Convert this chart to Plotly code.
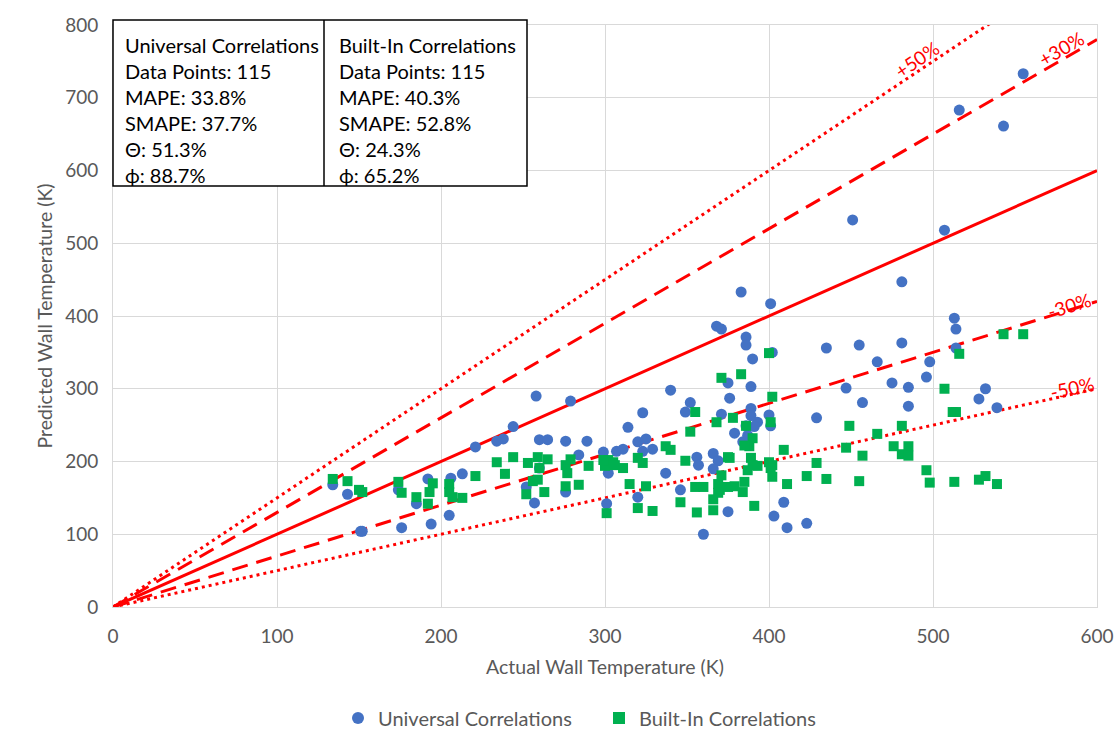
import plotly.graph_objects as go

# ---------------- data ----------------
universal_x = [555, 516, 543, 507, 481, 513, 514, 514, 481, 498, 475, 485, 496, 485, 532, 528, 539, 466,
               451, 455, 447, 457, 383, 401, 368, 371, 386, 386, 402, 390, 435, 375, 389, 376, 352, 371,
               389, 389, 393, 391, 386, 400, 401, 429, 379, 384, 387, 356, 357, 366, 369, 366, 375, 409,
               403, 411, 423, 360, 258, 279, 340, 244, 238, 260, 265, 276, 289, 314, 323, 320, 325, 323,
               329, 349, 284, 299, 307, 311, 302, 337, 260, 252, 276, 257, 301, 320, 346, 221, 234, 134,
               143, 151, 152, 176, 174, 185, 192, 194, 206, 205, 213]
universal_y = [733, 683, 661, 518, 447, 397, 382, 356, 363, 337, 308, 302, 316, 276, 300, 286, 274, 337,
               532, 360, 301, 281, 433, 417, 386, 382, 371, 360, 350, 341, 356, 308, 303, 287, 281, 265,
               273, 263, 254, 248, 249, 264, 249, 260, 239, 227, 236, 206, 195, 211, 201, 190, 131, 144,
               125, 109, 115, 100, 290, 283, 298, 248, 231, 230, 230, 228, 228, 247, 267, 227, 231, 214,
               217, 268, 209, 213, 214, 217, 184, 184, 191, 165, 158, 143, 142, 151, 161, 220, 228, 168,
               155, 104, 104, 109, 161, 142, 176, 114, 177, 126, 183]

builtin_x = [134, 143, 150, 152, 174, 176, 185, 192, 195, 193, 205, 205, 207, 213, 221, 234, 239, 244,
             253, 259, 265, 260, 259, 256, 252, 263, 276, 279, 277, 276, 284, 290, 300, 302, 305, 306,
             311, 299, 320, 323, 315, 325, 301, 320, 329, 337, 340, 349, 352, 355, 346, 355, 356, 400,
             371, 383, 402, 378, 368, 386, 401, 390, 388, 385, 409, 375, 376, 389, 390, 393, 387, 400,
             402, 401, 429, 371, 402, 360, 369, 370, 375, 379, 384, 385, 411, 423, 435, 366, 369, 366,
             391, 447, 449, 543, 555, 516, 507, 512, 514, 481, 466, 457, 476, 485, 481, 485, 496, 455,
             498, 513, 528, 532, 539]
builtin_y = [176, 173, 161, 158, 172, 157, 151, 142, 170, 158, 169, 158, 151, 150, 180, 199, 183, 206,
             198, 206, 203, 191, 175, 173, 155, 158, 195, 203, 184, 166, 168, 194, 194, 202, 199, 195,
             191, 202, 205, 198, 169, 166, 129, 136, 132, 221, 216, 201, 241, 268, 144, 165, 130, 349,
             315, 320, 289, 260, 254, 249, 254, 232, 221, 222, 216, 206, 205, 205, 195, 194, 188, 199,
             195, 191, 198, 181, 179, 165, 169, 161, 165, 166, 158, 172, 169, 180, 176, 148, 157, 133,
             139, 219, 249, 375, 375, 348, 300, 268, 268, 249, 238, 208, 221, 221, 210, 208, 188, 173,
             171, 172, 175, 180, 169]

ref_x = [0, 600]
ref_factors = [1.0, 1.3, 0.7, 1.5, 0.5]
ref_dash = ["solid", "16px,9px", "16px,9px", "3px,4px", "3px,4px"]

band_labels = ["+50%", "+30%", "-30%", "-50%"]
band_label_x = [490, 578, 583, 585]
band_label_y = [752, 768, 415, 302]
band_label_angle = [-34, -30, -17, -12]

table_left = ["Universal Correlations", "Data Points: 115", "MAPE: 33.8%", "SMAPE: 37.7%", "\u0398: 51.3%", "\u03d5: 88.7%"]
table_right = ["Built-In Correlations", "Data Points: 115", "MAPE: 40.3%", "SMAPE: 52.8%", "\u0398: 24.3%", "\u03d5: 65.2%"]

x_ticks = [0, 100, 200, 300, 400, 500, 600]
y_ticks = [0, 100, 200, 300, 400, 500, 600, 700, 800]

FONT = "Lato, 'Open Sans', sans-serif"
W, H = 1116, 745
L, R, T, B = 113, 19, 25, 138
PW, PH = W - L - R, H - T - B

fig = go.Figure()

for f, d in zip(ref_factors, ref_dash):
    fig.add_trace(go.Scatter(x=ref_x, y=[v * f for v in ref_x], mode="lines",
                             line=dict(color="#FF0000", width=3, dash=d),
                             showlegend=False, hoverinfo="skip", cliponaxis=True))

fig.add_trace(go.Scatter(x=universal_x, y=universal_y, mode="markers", name="Universal Correlations",
                         marker=dict(symbol="circle", size=11, color="#4472C4")))
fig.add_trace(go.Scatter(x=builtin_x, y=builtin_y, mode="markers", name="Built-In Correlations",
                         marker=dict(symbol="square", size=10, color="#00B050")))

for t, x, y, a in zip(band_labels, band_label_x, band_label_y, band_label_angle):
    fig.add_annotation(x=x, y=y, xref="x", yref="y", text=t, showarrow=False, textangle=a,
                       font=dict(family=FONT, size=19, color="#FF0000"))


def px_to_paper_x(px):
    return (px - L) / PW


def px_to_paper_y(py):
    return (H - B - py) / PH


box_l, box_r, box_t, box_b, box_mid = 113, 527, 20, 186, 324
fig.add_shape(type="rect", xref="paper", yref="paper",
              x0=px_to_paper_x(box_l), x1=px_to_paper_x(box_r),
              y0=px_to_paper_y(box_b), y1=px_to_paper_y(box_t),
              line=dict(color="black", width=1.5), fillcolor="white", layer="above")
fig.add_shape(type="line", xref="paper", yref="paper",
              x0=px_to_paper_x(box_mid), x1=px_to_paper_x(box_mid),
              y0=px_to_paper_y(box_b), y1=px_to_paper_y(box_t),
              line=dict(color="black", width=1.5), layer="above")
row_y = [45, 71, 97, 123, 149, 175]
for i, ry in enumerate(row_y):
    fig.add_annotation(x=px_to_paper_x(123), y=px_to_paper_y(ry), xref="paper", yref="paper",
                       text=table_left[i], showarrow=False, xanchor="left", yanchor="middle",
                       font=dict(family=FONT, size=20, color="black"))
    fig.add_annotation(x=px_to_paper_x(337), y=px_to_paper_y(ry), xref="paper", yref="paper",
                       text=table_right[i], showarrow=False, xanchor="left", yanchor="middle",
                       font=dict(family=FONT, size=20, color="black"))

fig.update_layout(
    width=W, height=H,
    margin=dict(l=L, r=R, t=T, b=B, pad=0, autoexpand=False),
    paper_bgcolor="white", plot_bgcolor="white",
    font=dict(family=FONT, size=19, color="#595959"),
    legend=dict(orientation="h", x=px_to_paper_x(338), xanchor="left", y=px_to_paper_y(718), yanchor="middle",
                entrywidth=216, entrywidthmode="pixels",
                font=dict(family=FONT, size=20, color="#595959"), itemsizing="constant"),
    xaxis=dict(range=[0, 600], tickvals=x_ticks, showgrid=True, gridcolor="#D9D9D9", gridwidth=1,
               showline=True, linecolor="#D9D9D9", mirror=True, zeroline=False, ticks="",
               ticklabelstandoff=12, automargin=False,
               title=dict(text="Actual Wall Temperature (K)", font=dict(family=FONT, size=19.5, color="#595959"),
                          standoff=14),
               tickfont=dict(family=FONT, size=19, color="#595959")),
    yaxis=dict(range=[0, 800], tickvals=y_ticks, showgrid=True, gridcolor="#D9D9D9", gridwidth=1,
               showline=True, linecolor="#D9D9D9", mirror=True, zeroline=False, ticks="",
               ticklabelstandoff=10, automargin=False,
               title=dict(text="Predicted Wall Temperature (K)", font=dict(family=FONT, size=19.5, color="#595959"),
                          standoff=7),
               tickfont=dict(family=FONT, size=19, color="#595959")),
)

fig.write_html("out.html")
